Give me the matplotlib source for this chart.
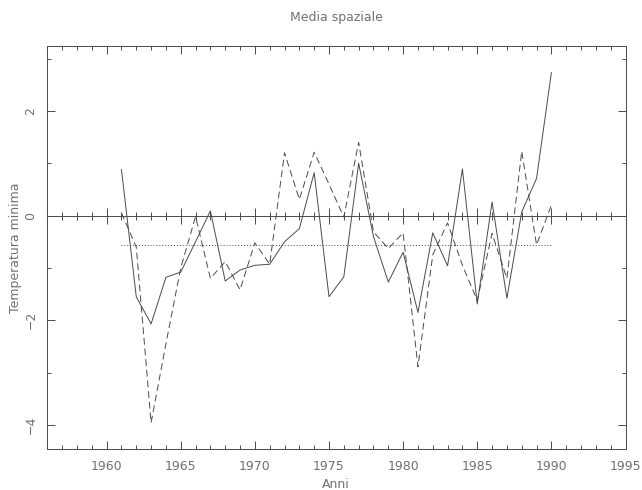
import matplotlib
matplotlib.use('Agg')
import matplotlib.pyplot as plt
from matplotlib.ticker import MultipleLocator

# anni e anomalie
anni = list(range(1961, 1991))
serie_continua = [0.88, -1.55, -2.07, -1.18, -1.08, -0.50, 0.09, -1.25, -1.04, -0.95,
                  -0.93, -0.50, -0.25, 0.82, -1.55, -1.17, 1.00, -0.40, -1.27, -0.70,
                  -1.85, -0.33, -0.96, 0.89, -1.69, 0.26, -1.58, 0.07, 0.71, 2.73]
serie_tratteggiata = [0.05, -0.60, -3.96, -2.45, -1.00, -0.02, -1.20, -0.88, -1.42, -0.52,
                      -0.93, 1.20, 0.31, 1.21, 0.60, -0.03, 1.40, -0.31, -0.63, -0.33,
                      -2.89, -0.75, -0.14, -0.95, -1.62, -0.34, -1.20, 1.23, -0.56, 0.20]
media = -0.57  # linea punteggiata

x_range = (1956, 1995)
y_range = (-4.46, 3.24)

line_col = '#4a4a4a'
text_col = '#707070'
lw = 0.7
fsize = 9

fig = plt.figure(figsize=(6.42, 4.90), dpi=100)
ax = fig.add_axes([0.0737, 0.0837, 0.9006, 0.8224])

# le due serie
ax.plot(anni, serie_continua, color=line_col, linewidth=lw)
ax.plot(anni, serie_tratteggiata, color=line_col, linewidth=lw, linestyle=(0, (7, 4)))
ax.plot([anni[0], anni[-1]], [media, media], color=line_col, linewidth=lw,
        linestyle=(0, (1, 2)))

ax.set_xlim(*x_range)
ax.set_ylim(*y_range)

# ticks stile pgplot, dentro su tutti i lati
ax.xaxis.set_major_locator(MultipleLocator(5))
ax.xaxis.set_minor_locator(MultipleLocator(1))
ax.yaxis.set_major_locator(MultipleLocator(2))
ax.yaxis.set_minor_locator(MultipleLocator(1))
ax.tick_params(which='both', direction='in', top=True, right=True, color=line_col,
               width=lw, labelcolor=text_col, labelsize=fsize)
ax.tick_params(which='major', length=6)
ax.tick_params(which='minor', length=3)
ax.tick_params(axis='x', pad=8)
ax.tick_params(axis='y', labelrotation=90, pad=7)
for lab in ax.get_yticklabels():
    lab.set_va('center')
for sp in ax.spines.values():
    sp.set_color(line_col)
    sp.set_linewidth(lw)

# asse dello zero con le tacche
frac0 = (0 - y_range[0]) / (y_range[1] - y_range[0])
zero_ax = ax.secondary_xaxis(frac0)
zero_ax.xaxis.set_major_locator(MultipleLocator(5))
zero_ax.xaxis.set_minor_locator(MultipleLocator(1))
zero_ax.tick_params(which='both', direction='inout', color=line_col, width=lw,
                    labelbottom=False, labeltop=False)
zero_ax.tick_params(which='major', length=12)
zero_ax.tick_params(which='minor', length=6)
for sp in zero_ax.spines.values():
    sp.set_color(line_col)
    sp.set_linewidth(lw)

fig.text(0.5235, 1 - 18 / 490, 'Media spaziale', ha='center', va='center',
         color=text_col, fontsize=fsize)
fig.text(0.5235, 1 - 484 / 490, 'Anni', ha='center', va='center',
         color=text_col, fontsize=fsize)
fig.text(16 / 642, 1 - 248 / 490, 'Temperatura minima', ha='center', va='center',
         rotation=90, color=text_col, fontsize=fsize)

fig.savefig('out.png', dpi=100)
